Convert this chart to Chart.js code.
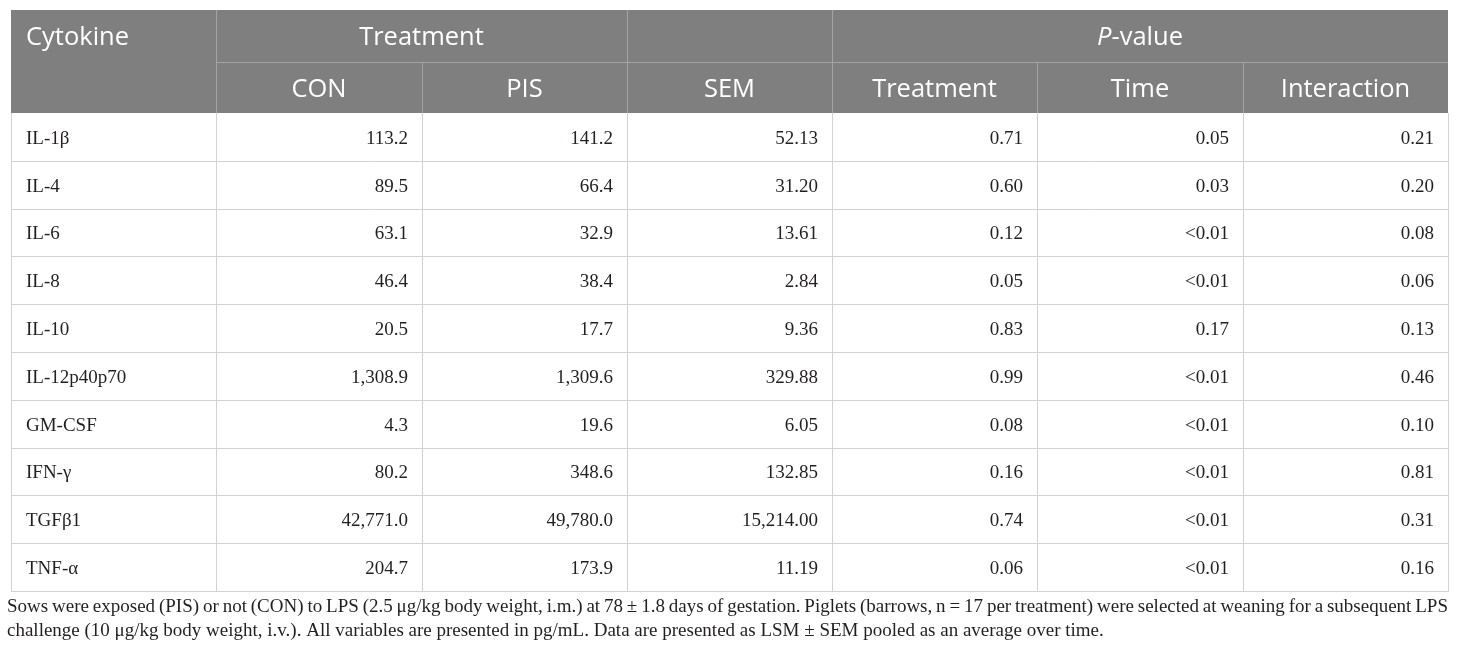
<!DOCTYPE html>
<html>
<head>
<meta charset="utf-8">
<style>
  html, body { margin: 0; padding: 0; background: #ffffff; }
  #wrap { width: 1460px; height: 656px; }
</style>
<script src="https://cdn.jsdelivr.net/npm/chart.js@4.4.0/dist/chart.umd.min.js"></script>
</head>
<body>
<div id="wrap"><canvas id="tableChart" width="1460" height="656"></canvas></div>
<script>
// Table data
const cytokines = ['IL-1β', 'IL-4', 'IL-6', 'IL-8', 'IL-10', 'IL-12p40p70', 'GM-CSF', 'IFN-γ', 'TGFβ1', 'TNF-α'];
const conValues = [113.2, 89.5, 63.1, 46.4, 20.5, 1308.9, 4.3, 80.2, 42771.0, 204.7];
const pisValues = [141.2, 66.4, 32.9, 38.4, 17.7, 1309.6, 19.6, 348.6, 49780.0, 173.9];
const semValues = [52.13, 31.20, 13.61, 2.84, 9.36, 329.88, 6.05, 132.85, 15214.00, 11.19];
const pTreatment = ['0.71', '0.60', '0.12', '0.05', '0.83', '0.99', '0.08', '0.16', '0.74', '0.06'];
const pTime = ['0.05', '0.03', '<0.01', '<0.01', '0.17', '<0.01', '<0.01', '<0.01', '<0.01', '<0.01'];
const pInteraction = ['0.21', '0.20', '0.08', '0.06', '0.13', '0.46', '0.10', '0.81', '0.31', '0.16'];

const headerTop = ['Cytokine', 'Treatment', '', 'P-value'];
const headerSub = ['CON', 'PIS', 'SEM', 'Treatment', 'Time', 'Interaction'];

const footnote = [
    'Sows were exposed (PIS) or not (CON) to LPS (2.5 μg/kg body weight, i.m.) at 78 ± 1.8 days of gestation. Piglets (barrows, n = 17 per treatment) were selected at weaning for a subsequent LPS',
    'challenge (10 μg/kg body weight, i.v.). All variables are presented in pg/mL. Data are presented as LSM ± SEM pooled as an average over time.'
];

// row edges in "row units" (header rows are a bit taller than data rows)
const HEAD1 = 1.088;
const HEAD2 = 2.155;
const NCOLS = 7;
const YMAX = HEAD2 + cytokines.length;

const fmt = (v, d) => v.toLocaleString('en-US', { minimumFractionDigits: d, maximumFractionDigits: d });

const headFont = '25.5px "Open Sans"';
const headFontItalic = 'italic 25.5px "Open Sans"';
const bodyFont = '19px "Liberation Serif"';
const noteFont = '19px "Liberation Serif"';

const tablePlugin = {
    id: 'tablePlugin',
    afterDraw(chart) {
        const ctx = chart.ctx;
        const xs = chart.scales.x;
        const ys = chart.scales.y;
        const X = v => Math.round(xs.getPixelForValue(v));
        const Y = v => Math.round(ys.getPixelForValue(v));

        ctx.save();

        // header background
        ctx.fillStyle = '#7f7f7f';
        ctx.fillRect(X(0), Y(0), X(NCOLS) - X(0), Y(HEAD2) - Y(0));

        // header lines
        ctx.strokeStyle = '#a3a3a3';
        ctx.lineWidth = 1;
        ctx.beginPath();
        ctx.moveTo(X(1), Y(HEAD1) + 0.5);
        ctx.lineTo(X(NCOLS), Y(HEAD1) + 0.5);
        [1, 3, 4].forEach(c => {
            ctx.moveTo(X(c) + 0.5, Y(0));
            ctx.lineTo(X(c) + 0.5, Y(HEAD2));
        });
        [2, 5, 6].forEach(c => {
            ctx.moveTo(X(c) + 0.5, Y(HEAD1));
            ctx.lineTo(X(c) + 0.5, Y(HEAD2));
        });
        ctx.stroke();

        // body grid
        ctx.strokeStyle = '#d2d2d2';
        ctx.beginPath();
        for (let i = 1; i <= cytokines.length; i++) {
            const y = Y(HEAD2 + i) + 0.5;
            ctx.moveTo(X(0), y);
            ctx.lineTo(X(NCOLS) + 1, y);
        }
        for (let c = 0; c <= NCOLS; c++) {
            ctx.moveTo(X(c) + 0.5, Y(HEAD2));
            ctx.lineTo(X(c) + 0.5, Y(YMAX));
        }
        ctx.stroke();

        // header text
        ctx.fillStyle = '#ffffff';
        ctx.font = headFont;
        ctx.textBaseline = 'middle';
        const yTop = (Y(0) + Y(HEAD1)) / 2 + 2;
        const ySub = (Y(HEAD1) + Y(HEAD2)) / 2 + 2;
        ctx.textAlign = 'left';
        ctx.fillText(headerTop[0], X(0) + 15, yTop);
        ctx.textAlign = 'center';
        ctx.fillText(headerTop[1], (X(1) + X(3)) / 2, yTop);
        // italic P + "-value"
        const pPart = headerTop[3].slice(0, 1);
        const rest = headerTop[3].slice(1);
        ctx.font = headFontItalic;
        const wP = ctx.measureText(pPart).width;
        ctx.font = headFont;
        const wR = ctx.measureText(rest).width;
        const cx = (X(4) + X(7)) / 2;
        ctx.textAlign = 'left';
        ctx.font = headFontItalic;
        ctx.fillText(pPart, cx - (wP + wR) / 2, yTop);
        ctx.font = headFont;
        ctx.fillText(rest, cx - (wP + wR) / 2 + wP, yTop);
        ctx.textAlign = 'center';
        headerSub.forEach((t, i) => {
            ctx.fillText(t, (X(i + 1) + X(i + 2)) / 2, ySub);
        });

        // body text
        ctx.fillStyle = '#231f20';
        ctx.font = bodyFont;
        cytokines.forEach((name, r) => {
            const y = (Y(HEAD2 + r) + Y(HEAD2 + r + 1)) / 2 + 2;
            ctx.textAlign = 'left';
            ctx.fillText(name, X(0) + 15, y);
            ctx.textAlign = 'right';
            const cells = [
                fmt(conValues[r], 1), fmt(pisValues[r], 1), fmt(semValues[r], 2),
                pTreatment[r], pTime[r], pInteraction[r]
            ];
            cells.forEach((t, c) => ctx.fillText(t, X(c + 2) - 14, y));
        });

        // footnote (first line justified to the table width)
        ctx.font = noteFont;
        ctx.textBaseline = 'alphabetic';
        ctx.textAlign = 'left';
        const left = 7;
        const right = X(NCOLS);
        const base1 = Y(YMAX) + 21;
        const words = footnote[0].split(' ');
        const wordsW = words.reduce((s, w) => s + ctx.measureText(w).width, 0);
        const gap = (right - left - wordsW) / (words.length - 1);
        let xx = left;
        words.forEach(w => {
            ctx.fillText(w, xx, base1);
            xx += ctx.measureText(w).width + gap;
        });
        ctx.fillText(footnote[1], left, base1 + 24);

        ctx.restore();
    }
};

const chart = new Chart(document.getElementById('tableChart').getContext('2d'), {
    type: 'scatter',
    data: { datasets: [{ data: [], pointRadius: 0 }] },
    options: {
        responsive: false,
        animation: false,
        layout: { padding: { left: 11, right: 12, top: 10, bottom: 65 } },
        plugins: { legend: { display: false }, tooltip: { enabled: false }, title: { display: false } },
        scales: {
            x: { type: 'linear', min: 0, max: NCOLS, display: false },
            y: { type: 'linear', min: 0, max: YMAX, reverse: true, display: false }
        }
    },
    plugins: [tablePlugin]
});
</script>
</body>
</html>
